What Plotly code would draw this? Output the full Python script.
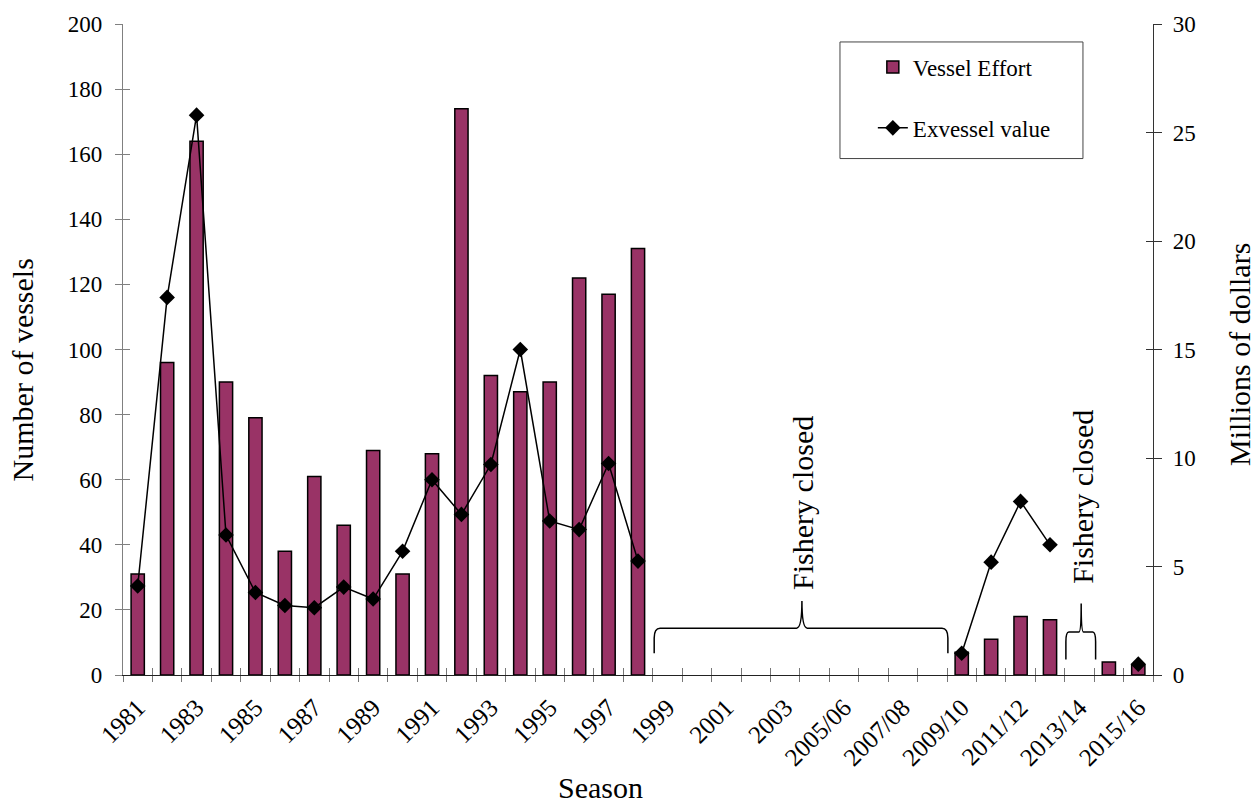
import plotly.graph_objects as go

seasons = ["1981", "1982", "1983", "1984", "1985", "1986", "1987", "1988", "1989", "1990",
           "1991", "1992", "1993", "1994", "1995", "1996", "1997", "1998",
           "1999", "2000", "2001", "2002", "2003", "2004/05", "2005/06", "2006/07",
           "2007/08", "2008/09", "2009/10", "2010/11", "2011/12", "2012/13", "2013/14",
           "2014/15", "2015/16"]

vessels = [31, 96, 164, 90, 79, 38, 61, 46, 69, 31,
           68, 174, 92, 87, 90, 122, 117, 131,
           None, None, None, None, None, None, None, None,
           None, None, 7, 11, 18, 17, None,
           4, 3]

exvessel_millions = [4.1, 17.4, 25.8, 6.45, 3.8, 3.2, 3.1, 4.05, 3.5, 5.7,
                     9.0, 7.4, 9.7, 15.0, 7.1, 6.7, 9.75, 5.25,
                     None, None, None, None, None, None, None, None,
                     None, None, 1.0, 5.2, 8.0, 6.0, None,
                     None, 0.5]

tick_text = [s if i % 2 == 0 else "" for i, s in enumerate(seasons)]

FONT = "Liberation Serif"
BAR_COLOR = "#993366"

fig = go.Figure()
fig.add_trace(go.Bar(x=seasons, y=vessels, name="Vessel Effort",
                     marker=dict(color=BAR_COLOR, line=dict(color="black", width=1.5)),
                     legendgroup="a", xaxis="x", yaxis="y"))
fig.add_trace(go.Scatter(x=seasons, y=exvessel_millions, name="Exvessel value",
                         mode="lines+markers", connectgaps=False,
                         line=dict(color="black", width=1.5),
                         marker=dict(symbol="diamond", size=12, color="black"),
                         legendgroup="b", xaxis="x", yaxis="y2"))
# dummy traces to draw inward tick halves (cross ticks)
fig.add_trace(go.Scatter(x=[None], y=[None], xaxis="x2", yaxis="y3", showlegend=False, hoverinfo="skip"))
fig.add_trace(go.Scatter(x=[None], y=[None], xaxis="x2", yaxis="y4", showlegend=False, hoverinfo="skip"))

# braces for closed periods (x in category index units, y in vessel units)
def brace(x0, x1, xm, y_end, y_h, y_tip, rx=0.2, ry=3.0, tx=0.18):
    return (f"M {x0},{y_end} L {x0},{y_h - ry} Q {x0},{y_h} {x0 + rx},{y_h} "
            f"L {xm - tx},{y_h} Q {xm},{y_h} {xm},{y_tip} "
            f"Q {xm},{y_h} {xm + tx},{y_h} L {x1 - rx},{y_h} "
            f"Q {x1},{y_h} {x1},{y_h - ry} L {x1},{y_end}")

shapes = [
    dict(type="path", xref="x", yref="y", path=brace(17.55, 27.53, 22.57, 6.7, 14.4, 22.7),
         line=dict(color="black", width=1.5)),
    dict(type="path", xref="x", yref="y", path=brace(31.54, 32.55, 32.06, 4.8, 13.2, 22.0, rx=0.1, ry=3.0, tx=0.08),
         line=dict(color="black", width=1.5)),
    dict(type="rect", xref="paper", yref="paper", x0=0.6961, x1=0.932, y0=0.7933, y1=0.9724,
         line=dict(color="#444", width=1), fillcolor="rgba(0,0,0,0)"),
]

annotations = [
    dict(text="Fishery closed", x=22.57, y=25.5, xref="x", yref="y", textangle=-90,
         showarrow=False, xanchor="center", yanchor="bottom", font=dict(family=FONT, size=30, color="black")),
    dict(text="Fishery closed", x=32.1, y=27.5, xref="x", yref="y", textangle=-90,
         showarrow=False, xanchor="center", yanchor="bottom", font=dict(family=FONT, size=30, color="black")),
    dict(text="Number of vessels", x=-0.0976, y=0.4686, xref="paper", yref="paper", textangle=-90,
         showarrow=False, xanchor="center", yanchor="middle", font=dict(family=FONT, size=30, color="black")),
    dict(text="Millions of dollars", x=1.0845, y=0.4916, xref="paper", yref="paper", textangle=-90,
         showarrow=False, xanchor="center", yanchor="middle", font=dict(family=FONT, size=30, color="black")),
    dict(text="Season", x=0.464, y=-0.173, xref="paper", yref="paper",
         showarrow=False, xanchor="center", yanchor="middle", font=dict(family=FONT, size=30, color="black")),
]

tickfont = dict(family=FONT, size=23, color="black")

fig.update_layout(
    width=1258, height=803,
    margin=dict(l=123, r=105, t=22, b=128),
    paper_bgcolor="white", plot_bgcolor="white",
    bargap=0.55,
    showlegend=True,
    legend=dict(x=0.728, y=0.967, xanchor="left", yanchor="top",
                font=dict(family=FONT, size=23, color="black"),
                traceorder="grouped", tracegroupgap=28,
                bgcolor="rgba(0,0,0,0)", borderwidth=0),
    xaxis=dict(type="category", categoryorder="array", categoryarray=seasons,
               tickmode="array", tickvals=seasons, ticktext=tick_text,
               tickson="boundaries", ticks="outside", ticklen=6, tickcolor="#777", tickwidth=1.2,
               tickangle=-45, tickfont=dict(family=FONT, size=25, color="black"),
               ticklabelstandoff=7,
               showline=True, linecolor="#222", linewidth=1.2,
               showgrid=False, zeroline=False, range=[-0.5, 34.5]),
    xaxis2=dict(overlaying="x", anchor="y", side="bottom", range=[-0.5, 34.5],
                tickmode="array", tickvals=[i - 0.5 for i in range(36)],
                ticks="inside", ticklen=7, tickcolor="#777", tickwidth=1.2,
                showticklabels=False, showline=False, showgrid=False, zeroline=False),
    yaxis=dict(range=[0, 200], dtick=20, tick0=0, ticks="outside", ticklen=7,
               tickcolor="#808080", tickwidth=1.2, tickfont=tickfont, ticklabelstandoff=8,
               showline=True, linecolor="#808080", linewidth=1.2,
               showgrid=False, zeroline=False),
    yaxis2=dict(range=[0, 30], dtick=5, tick0=0, overlaying="y", side="right", anchor="x",
                ticks="outside", ticklen=8, tickcolor="#333", tickwidth=1.2, tickfont=tickfont,
                ticklabelstandoff=6,
                showline=True, linecolor="#333", linewidth=1.2,
                showgrid=False, zeroline=False),
    yaxis3=dict(range=[0, 200], dtick=20, tick0=0, overlaying="y", side="left", anchor="x2",
                ticks="inside", ticklen=7, tickcolor="#808080", tickwidth=1.2,
                showticklabels=False, showline=False, showgrid=False, zeroline=False),
    yaxis4=dict(range=[0, 30], dtick=5, tick0=0, overlaying="y", side="right", anchor="x2",
                ticks="inside", ticklen=7, tickcolor="#333", tickwidth=1.2,
                showticklabels=False, showline=False, showgrid=False, zeroline=False),
    shapes=shapes,
    annotations=annotations,
)

fig.write_html("out.html", config={"displayModeBar": False},
               post_script="document.body.style.margin='0px';")
